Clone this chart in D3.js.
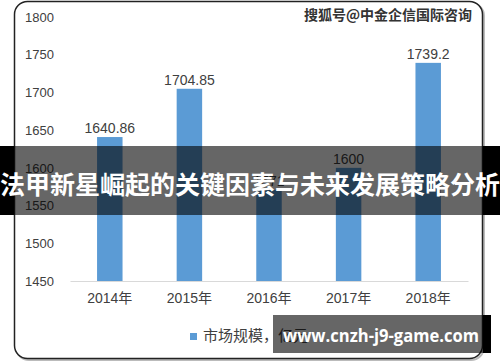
<!DOCTYPE html>
<html><head><meta charset="utf-8">
<script src="https://cdn.jsdelivr.net/npm/d3@7"></script>
<style>
html,body{margin:0;padding:0;background:#fff;}
svg{display:block;}
</style></head>
<body>
<svg id="chart" width="500" height="362"></svg>
<script>
const categories = ["2014年","2015年","2016年","2017年","2018年"];
const values = [1640.86, 1704.85, 1571, 1600, 1739.2];
const valueLabels = ["1640.86","1704.85","1571","1600","1739.2"];
const yTicks = [1450,1500,1550,1600,1650,1700,1750,1800];
const legendLabel = "市场规模，亿元";
const watermark = "搜狐号@中金企信国际咨询";
const bannerText = "法甲新星崛起的关键因素与未来发展策略分析";
const urlText = "www.cnzh-j9-game.com";

const svg = d3.select("#chart");
const font = "'Liberation Sans','Noto Sans CJK SC',sans-serif";
const cjk = "'Noto Sans CJK SC',sans-serif";

// frame
svg.append("rect").attr("x",15).attr("y",2).attr("width",468).attr("height",357)
  .attr("rx",13).attr("fill","none").attr("stroke","#bbb").attr("stroke-width",2)
  .attr("transform","translate(1,1)");
svg.append("rect").attr("x",14.5).attr("y",1.5).attr("width",468).attr("height",357)
  .attr("rx",13).attr("fill","#fff").attr("stroke","#222").attr("stroke-width",1.5);

const x = d3.scaleBand().domain(categories).range([70,468]).paddingInner(0.68).paddingOuter(0.34);
const y = d3.scaleLinear().domain([1450,1800]).range([281,17]);

// y axis
const ya = svg.append("g").attr("transform","translate(54,0)")
  .call(d3.axisLeft(y).tickValues(yTicks).tickSize(0).tickPadding(0).tickFormat(d3.format("d")));
ya.select(".domain").remove();
ya.selectAll("text").attr("font-family",font).attr("font-size",13).attr("fill","#404040");

// bars
svg.append("g").selectAll("rect").data(values).join("rect")
  .attr("x",(d,i)=>x(categories[i])).attr("width",x.bandwidth())
  .attr("y",d=>y(d)).attr("height",d=>y(1450)-y(d)).attr("fill","#5b9bd5");

// x axis
const xa = svg.append("g").attr("transform","translate(0,281)")
  .call(d3.axisBottom(x).tickSize(0).tickPadding(12));
xa.select(".domain").attr("stroke","#d9d9d9").attr("stroke-width",1.2);
xa.selectAll("text").attr("font-family",font).attr("font-size",14).attr("fill","#404040");

// value labels
svg.append("g").selectAll("text").data(values).join("text")
  .attr("x",(d,i)=>x(categories[i])+x.bandwidth()/2).attr("y",d=>y(d)-4)
  .attr("text-anchor","middle").attr("font-family",font).attr("font-size",14).attr("fill","#404040")
  .text((d,i)=>valueLabels[i]);

// legend
svg.append("rect").attr("x",190).attr("y",333).attr("width",7).attr("height",7).attr("fill","#5b9bd5");
svg.append("text").attr("x",203).attr("y",341).attr("font-family",cjk).attr("font-size",15)
  .attr("fill","#404040").text(legendLabel);

// watermark
svg.append("text").attr("x",472).attr("y",20).attr("text-anchor","end")
  .attr("font-family",cjk).attr("font-size",14).attr("font-weight","bold")
  .attr("fill","#333").attr("stroke","#fff").attr("stroke-width",0.6).attr("paint-order","stroke")
  .text(watermark);

// banner overlay
svg.append("rect").attr("x",0).attr("y",146).attr("width",14).attr("height",69).attr("fill","#000");
svg.append("rect").attr("x",483).attr("y",146).attr("width",17).attr("height",69).attr("fill","#000");
svg.append("rect").attr("x",14).attr("y",146).attr("width",469).attr("height",69).attr("fill","rgba(0,0,0,0.6)");
svg.append("text").attr("x",250).attr("y",194).attr("text-anchor","middle")
  .attr("font-family",cjk).attr("font-size",25).attr("font-weight","bold").attr("fill","#fff")
  .attr("textLength",500).attr("lengthAdjust","spacingAndGlyphs")
  .text(bannerText);

// url box
svg.append("rect").attr("x",483).attr("y",315).attr("width",8).attr("height",38).attr("fill","#000");
svg.append("rect").attr("x",273).attr("y",315).attr("width",210).attr("height",38).attr("fill","rgba(0,0,0,0.6)");
svg.append("text").attr("x",283).attr("y",342)
  .attr("font-family","'Open Sans',sans-serif").attr("font-size",18).attr("font-weight","bold").attr("fill","#fff")
  .attr("textLength",196).attr("lengthAdjust","spacingAndGlyphs")
  .text(urlText);
</script>
</body></html>
